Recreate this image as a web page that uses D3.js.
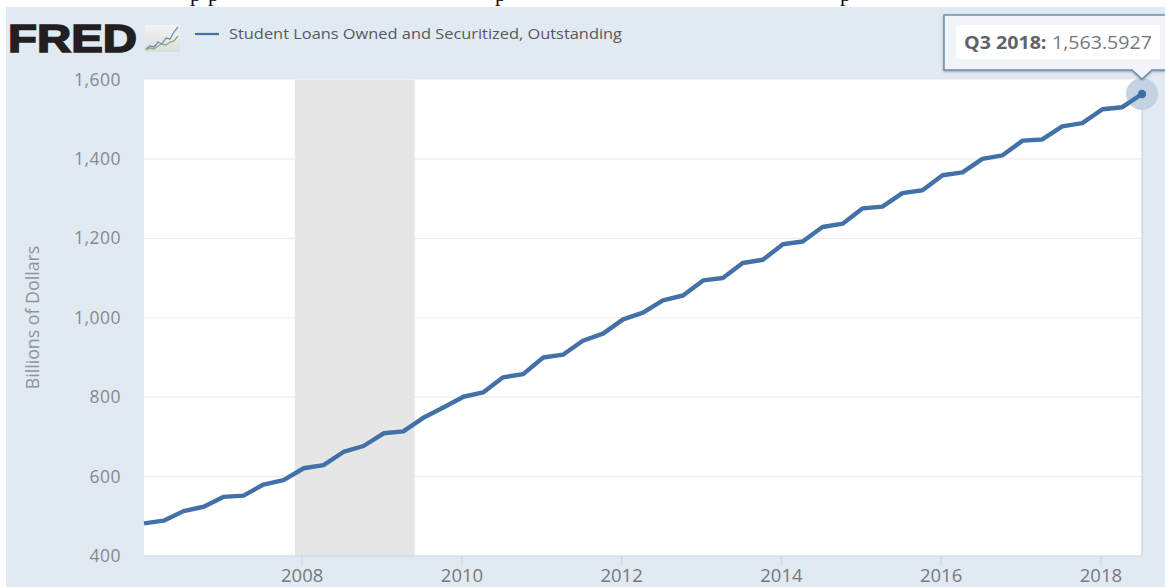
<!DOCTYPE html>
<html>
<head>
<meta charset="utf-8">
<script src="https://cdn.jsdelivr.net/npm/d3@7"></script>
<style>
  html, body { margin: 0; padding: 0; background: #fff; overflow: hidden; }
  svg { display: block; }
  text { font-family: "Open Sans", sans-serif; }
</style>
</head>
<body>
<svg id="chart" width="1165" height="587"></svg>
<script>
// Student loans outstanding, billions of dollars, quarterly from Q1 2006 to Q3 2018.
const firstQuarter = new Date(2006, 0, 1);
const loanValues = [
  482, 489, 513, 524, 549, 552, 580, 591, 621, 629, 662, 677, 709, 714, 748, 774, 801,
  812, 850, 858, 900, 907, 942, 960, 996, 1013, 1044, 1056, 1094, 1100, 1138, 1146,
  1185, 1192, 1228.5, 1237, 1275.5, 1280, 1314, 1321, 1359, 1366, 1400, 1409, 1446,
  1449, 1482, 1490, 1525, 1530, 1563.5927
];
const recessionSpan = [new Date(2007, 11, 1), new Date(2009, 5, 1)];
const yTicks = [400, 600, 800, 1000, 1200, 1400, 1600];
const xTickYears = [2008, 2010, 2012, 2014, 2016, 2018];
const seriesName = "Student Loans Owned and Securitized, Outstanding";
const yTitle = "Billions of Dollars";
const tipPeriod = "Q3 2018:";
const tipValue = "1,563.5927";
const logoBlue = [2, 5, 4, 9, 7, 13, 12, 19, 24];
const logoGreen = [1, 3, 2, 5, 7, 6, 9, 10, 15];
const clippedLetters = [
  { glyph: "p", at: 190 }, { glyph: "p", at: 208 }, { glyph: "p", at: 495 }, { glyph: "p", at: 840 }
];

const margin = { left: 144, right: 1142, top: 79.5, bottom: 556 };
const axisShift = -2; // calendar ticks sit slightly left of the quarterly points

const quarters = loanValues.map((v, i) => ({ date: d3.timeMonth.offset(firstQuarter, i * 3), value: v }));
const last = quarters[quarters.length - 1];

const x = d3.scaleTime().domain([firstQuarter, last.date]).range([margin.left, margin.right]);
const y = d3.scaleLinear().domain([400, 1600]).range([margin.bottom, margin.top]);

const svg = d3.select("#chart");
const defs = svg.append("defs");

defs.append("clipPath").attr("id", "topStrip")
  .append("rect").attr("width", 1165).attr("height", 7);

const tipShadow = defs.append("filter").attr("id", "tipShadow")
  .attr("x", "-5%").attr("y", "-20%").attr("width", "110%").attr("height", "150%");
tipShadow.append("feDropShadow").attr("dx", 0).attr("dy", 1).attr("stdDeviation", 1)
  .attr("flood-color", "#5a6f88").attr("flood-opacity", 0.6);

const iconFill = defs.append("linearGradient").attr("id", "iconFill")
  .attr("x1", 0).attr("y1", 0).attr("x2", 0).attr("y2", 1);
iconFill.append("stop").attr("offset", 0).attr("stop-color", "#f2f4f4");
iconFill.append("stop").attr("offset", 1).attr("stop-color", "#d9dedb");

// Descenders of the line of text above the chart
svg.append("g").attr("clip-path", "url(#topStrip)")
  .selectAll("text").data(clippedLetters).join("text")
  .attr("x", d => d.at).attr("y", 1)
  .style("font-family", "'Liberation Serif', serif")
  .attr("font-size", 22).attr("fill", "#111")
  .text(d => d.glyph);

// Page panel
svg.append("rect").attr("x", 6).attr("y", 7).attr("width", 1159).attr("height", 580).attr("fill", "#e1e9f1");

// Plot area
svg.append("rect")
  .attr("x", margin.left).attr("y", margin.top)
  .attr("width", margin.right - margin.left).attr("height", margin.bottom - margin.top)
  .attr("fill", "#fff");

// Grid
svg.append("g").selectAll("line").data(yTicks.filter(t => t > 400 && t < 1600)).join("line")
  .attr("x1", margin.left).attr("x2", margin.right)
  .attr("y1", d => y(d)).attr("y2", d => y(d))
  .attr("stroke", "#ececec").attr("stroke-width", 1.2);

// Recession band
svg.append("rect")
  .attr("x", x(recessionSpan[0]) + axisShift).attr("y", margin.top)
  .attr("width", x(recessionSpan[1]) - x(recessionSpan[0]))
  .attr("height", margin.bottom - margin.top)
  .attr("fill", "#e6e6e6");

// Right edge of the plot
svg.append("line")
  .attr("x1", margin.right).attr("x2", margin.right)
  .attr("y1", margin.top).attr("y2", margin.bottom)
  .attr("stroke", "#c6ccd4").attr("stroke-width", 1);

// Y axis labels
const yAxis = svg.append("g").attr("transform", `translate(${margin.left},0)`)
  .call(d3.axisLeft(y).tickValues(yTicks).tickFormat(d3.format(",")).tickSize(0).tickPadding(23));
yAxis.select(".domain").remove();
yAxis.selectAll("text")
  .style("font-family", "'Open Sans', sans-serif")
  .style("letter-spacing", "0.5px")
  .attr("font-size", 17.5).attr("fill", "#858a8f");

// X axis
const xAxis = svg.append("g").attr("transform", `translate(${axisShift},${margin.bottom})`)
  .call(d3.axisBottom(x).tickValues(xTickYears.map(yr => new Date(yr, 0, 1)))
    .tickFormat(d3.timeFormat("%Y")).tickSize(10).tickPadding(3));
xAxis.select(".domain").remove();
xAxis.selectAll("line").attr("stroke", "#ccd6e6");
xAxis.selectAll("text")
  .style("font-family", "'Open Sans', sans-serif")
  .attr("font-size", 18.5).attr("fill", "#77797c");
svg.append("line")
  .attr("x1", margin.left).attr("x2", margin.right)
  .attr("y1", margin.bottom).attr("y2", margin.bottom)
  .attr("stroke", "#ccd6e6");

// Y axis title
svg.append("text")
  .attr("transform", "translate(39,317.5) rotate(-90)")
  .attr("text-anchor", "middle")
  .attr("font-size", 17.8).attr("fill", "#8f9499")
  .text(yTitle);

// Data line
const line = d3.line().x(d => x(d.date)).y(d => y(d.value));
svg.append("path").datum(quarters)
  .attr("d", line)
  .attr("fill", "none")
  .attr("stroke", "#4271a8").attr("stroke-width", 4.4)
  .attr("stroke-linejoin", "round");

// Highlighted final point
svg.append("circle").attr("cx", x(last.date)).attr("cy", y(last.value)).attr("r", 16)
  .attr("fill", "#c4d2e3");
svg.append("path").datum(quarters.slice(-2))
  .attr("d", line).attr("fill", "none")
  .attr("stroke", "#4271a8").attr("stroke-width", 4.4);
svg.append("circle").attr("cx", x(last.date)).attr("cy", y(last.value)).attr("r", 4.2)
  .attr("fill", "#3d6ea8");

// FRED wordmark
svg.append("text")
  .attr("x", 8).attr("y", 52)
  .style("font-family", "'Liberation Sans', sans-serif")
  .attr("font-weight", 700)
  .attr("font-size", 39.5)
  .attr("textLength", 129).attr("lengthAdjust", "spacingAndGlyphs")
  .attr("fill", "#231f20").attr("stroke", "#231f20").attr("stroke-width", 1.6)
  .text("FRED");

// Wordmark icon
const icon = svg.append("g").attr("transform", "translate(145,25)");
icon.append("rect").attr("width", 35).attr("height", 27).attr("fill", "url(#iconFill)");
const iconX = d3.scaleLinear().domain([0, logoBlue.length - 1]).range([1, 33]);
const iconY = d3.scaleLinear().domain([0, 26]).range([26, 0]);
const iconLine = d3.line().x((d, i) => iconX(i)).y(d => iconY(d));
icon.append("path").attr("d", iconLine(logoBlue)).attr("fill", "none").attr("stroke", "#6f8fb5").attr("stroke-width", 1.3);
icon.append("path").attr("d", iconLine(logoGreen)).attr("fill", "none").attr("stroke", "#8cab84").attr("stroke-width", 1.3);

// Legend
svg.append("line").attr("x1", 195).attr("x2", 219).attr("y1", 34).attr("y2", 34)
  .attr("stroke", "#4271a8").attr("stroke-width", 2.2);
svg.append("text").attr("x", 229).attr("y", 39)
  .attr("font-size", 14.5).attr("fill", "#555a60")
  .attr("textLength", 393).attr("lengthAdjust", "spacingAndGlyphs")
  .text(seriesName);

// Tooltip
const tipX = x(last.date);
svg.append("path")
  .attr("d", d3.line()([[944, 15], [1170, 15], [1170, 70], [tipX + 10, 70], [tipX, 79], [tipX - 10, 70], [944, 70]]) + "Z")
  .attr("fill", "#f1f5f9").attr("stroke", "#6d8fb3").attr("stroke-width", 1.5)
  .attr("filter", "url(#tipShadow)");
svg.append("rect").attr("x", 956).attr("y", 25).attr("width", 204).attr("height", 34).attr("fill", "#fff");
const tip = svg.append("text").attr("x", 964).attr("y", 49).attr("font-size", 18).attr("fill", "#6a6e72")
  .attr("textLength", 188).attr("lengthAdjust", "spacingAndGlyphs");
tip.append("tspan").attr("font-weight", 700).attr("fill", "#5f6367").text(tipPeriod);
tip.append("tspan").attr("dx", 5).attr("fill", "#75797d").text(tipValue);
</script>
</body>
</html>
